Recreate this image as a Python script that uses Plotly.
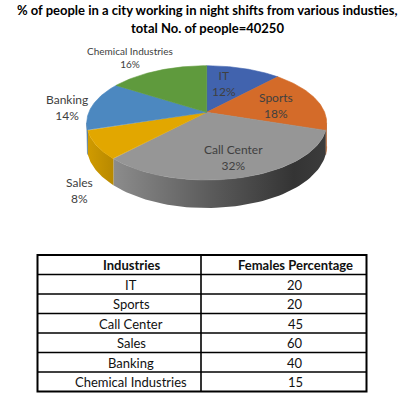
import numpy as np
import plotly.graph_objects as go

# ---------------- data ----------------
industries = ["IT", "Sports", "Call Center", "Sales", "Banking", "Chemical Industries"]
share_pct = [12, 18, 32, 8, 14, 16]
females_pct = [20, 20, 45, 60, 40, 15]
table_headers = ["Industries", "Females Percentage"]
title_lines = ["% of people in a city working in night shifts from various industies,",
               "total No. of people=40250"]

# ---------------- styles ----------------
top_colors = ["#4163ae", "#d46b29", "#969696", "#e2a700", "#4c88c0", "#5f9a3d"]
side_colors = ["#2f4a85", "#a8521d", None, "#c49200", "#3a6b99", "#4a7a2f"]
FONT = "Lato"
W, Hh = 405, 399

# projection of a tilted disc with perspective (screen pixel units)
CX, CY = 206.7, 112.3
F, K, D, H = 638.6, 299.0, 5.415, 123.6


def proj(theta_deg, rho=1.0):
    t = np.radians(theta_deg)
    x = rho * np.sin(t)
    y = rho * np.cos(t)
    return CX + F * x / (D + y), CY - K * y / (D + y)


def side_off(theta_deg):
    y = np.cos(np.radians(theta_deg))
    return H / (D + y)


fig = go.Figure()

bounds = np.concatenate([[0], np.cumsum(share_pct)]) / 100 * 360
vis_lo, vis_hi = 100.6, 259.4

# side faces
for i, name in enumerate(industries):
    a0, a1 = max(bounds[i], vis_lo), min(bounds[i + 1], vis_hi)
    if a1 <= a0:
        continue
    th = np.linspace(a0, a1, 60)
    xt, yt = proj(th)
    yb = yt + side_off(th)
    xs = np.concatenate([xt, xt[::-1]])
    ys = np.concatenate([yt, yb[::-1]])
    kw = dict(x=xs, y=ys, mode="lines", fill="toself", line=dict(width=0.5),
              hoverinfo="skip", showlegend=False)
    if name == "Call Center":
        kw["fillgradient"] = dict(type="horizontal",
                                  colorscale=[[0, "#8c8c8c"], [0.45, "#5c5c5c"],
                                              [0.85, "#343434"], [1, "#3c3c3c"]])
        kw["line"]["width"] = 0
    elif name == "Sales":
        kw["fillgradient"] = dict(type="horizontal",
                                  colorscale=[[0, "#d09b00"], [1, "#b88900"]])
        kw["line"]["width"] = 0
    else:
        kw["fillcolor"] = side_colors[i]
        kw["line"]["color"] = side_colors[i]
    fig.add_trace(go.Scatter(**kw))

# top faces
for i, name in enumerate(industries):
    th = np.linspace(bounds[i], bounds[i + 1], 80)
    xt, yt = proj(th)
    xs = np.concatenate([[CX], xt, [CX]])
    ys = np.concatenate([[CY], yt, [CY]])
    fig.add_trace(go.Scatter(x=xs, y=ys, mode="lines", fill="toself",
                             fillcolor=top_colors[i],
                             line=dict(color=top_colors[i], width=0.6),
                             name=name, hoverinfo="name", showlegend=False))

# data labels
label_pos = {"IT": (224, 83.5), "Sports": (276, 105.5), "Call Center": (233, 157),
             "Sales": (79, 190), "Banking": (67, 107.5), "Chemical Industries": (130, 57)}
for name, p in zip(industries, share_pct):
    x, y = label_pos[name]
    small = name == "Chemical Industries"
    fig.add_annotation(x=x, y=y, xref="x", yref="y",
                       text=f"{name}<br>{p}%", showarrow=False,
                       font=dict(family=FONT, size=10 if small else 12, color="#404040",
                                 weight=400),
                       align="center")

# title
for txt, y in zip(title_lines, [10, 27.5]):
    fig.add_annotation(x=207, y=y, xref="x", yref="y", text=f"<b>{txt}</b>",
                       showarrow=False, font=dict(family=FONT, size=13, color="black"))

# table (drawn with lines + text)
TX0, TXM, TX1 = 37.5, 201, 366.5
TY0, ROW_H = 255, 19.5
n_rows = len(industries) + 1
TY1 = TY0 + ROW_H * n_rows
shapes = [dict(type="rect", xref="x", yref="y", x0=TX0, x1=TX1, y0=TY0, y1=TY1,
               line=dict(color="black", width=2), layer="above")]
shapes.append(dict(type="line", xref="x", yref="y", x0=TXM, x1=TXM, y0=TY0, y1=TY1,
                   line=dict(color="black", width=1.6)))
for r in range(1, n_rows):
    yy = TY0 + r * ROW_H
    shapes.append(dict(type="line", xref="x", yref="y", x0=TX0, x1=TX1, y0=yy, y1=yy,
                       line=dict(color="black", width=1.5)))
fig.update_layout(shapes=shapes)

col_x = [131, 295]
rows = [[f"<b>{h}</b>" for h in table_headers]] + \
       [[ind, str(v)] for ind, v in zip(industries, females_pct)]
for r, row in enumerate(rows):
    yc = TY0 + (r + 0.5) * ROW_H + 0.5
    for cx, txt in zip(col_x, row):
        fig.add_annotation(x=cx, y=yc, xref="x", yref="y", text=txt, showarrow=False,
                           font=dict(family=FONT, size=13, color="#111111", weight=400))

fig.update_layout(
    width=W, height=Hh, margin=dict(l=0, r=0, t=0, b=0),
    paper_bgcolor="white", plot_bgcolor="white", showlegend=False,
    hovermode=False,
    xaxis=dict(range=[0, W], visible=False, fixedrange=True, domain=[0, 1]),
    yaxis=dict(range=[Hh, 0], visible=False, fixedrange=True, domain=[0, 1]),
)

fig.write_html("out.html", config={"displayModeBar": False, "staticPlot": True},
               post_script="document.body.style.margin='0px';document.body.style.overflow='hidden';")
